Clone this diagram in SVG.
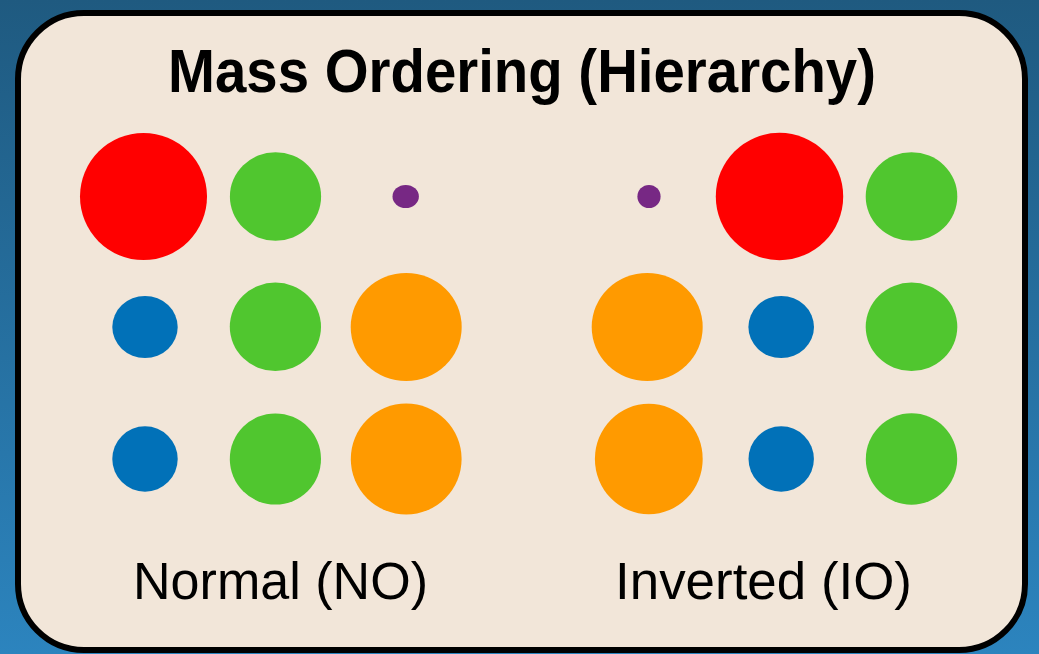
<svg xmlns="http://www.w3.org/2000/svg" width="1039" height="654" viewBox="0 0 1039 654">
  <defs>
    <linearGradient id="bg" x1="0" y1="0" x2="0" y2="1">
      <stop offset="0" stop-color="#1f5a80"/>
      <stop offset="1" stop-color="#2c84be"/>
    </linearGradient>
    <style>
      .red{fill:#ff0000}
      .green{fill:#50c62f}
      .purple{fill:#772884}
      .blue{fill:#0171b8}
      .orange{fill:#ff9a00}
      .lbl{font-family:"Liberation Sans",Arial,sans-serif;font-size:51px;fill:#000}
      .title{font-family:"Liberation Sans",Arial,sans-serif;font-size:61px;font-weight:bold;fill:#000}
    </style>
  </defs>
  <rect x="0" y="0" width="1039" height="654" fill="url(#bg)"/>
  <rect x="18" y="13" width="1007" height="637" rx="66" ry="66" fill="#f2e6d9" stroke="#000" stroke-width="6"/>
  <g id="title">
    <text class="title" x="522" y="92" text-anchor="middle" textLength="708" lengthAdjust="spacingAndGlyphs">Mass Ordering (Hierarchy)</text>
  </g>
  <g id="normal">
    <circle class="red" cx="143.5" cy="196.5" r="63.5"/>
    <ellipse class="green" cx="275.5" cy="196.5" rx="45.6" ry="44.3"/>
    <ellipse class="purple" cx="405.7" cy="196.5" rx="13.2" ry="11.5"/>
    <ellipse class="blue" cx="145" cy="327" rx="32.7" ry="31"/>
    <ellipse class="green" cx="275.4" cy="326.8" rx="45.6" ry="44.2"/>
    <ellipse class="orange" cx="406.2" cy="327" rx="55.5" ry="54"/>
    <circle class="blue" cx="145" cy="459" r="32.7"/>
    <circle class="green" cx="275.4" cy="459" r="45.6"/>
    <circle class="orange" cx="406.2" cy="459" r="55.4"/>
    <text class="lbl" x="133" y="599" textLength="295" lengthAdjust="spacingAndGlyphs">Normal (NO)</text>
  </g>
  <g id="inverted">
    <circle class="purple" cx="649" cy="196.5" r="11.6"/>
    <circle class="red" cx="779.5" cy="196.5" r="63.7"/>
    <ellipse class="green" cx="911.5" cy="196.5" rx="45.8" ry="44.3"/>
    <ellipse class="orange" cx="647.2" cy="327" rx="55.5" ry="54"/>
    <ellipse class="blue" cx="781.2" cy="327" rx="32.8" ry="31"/>
    <ellipse class="green" cx="911.5" cy="326.8" rx="45.8" ry="44.2"/>
    <ellipse class="orange" cx="648.8" cy="459" rx="53.9" ry="55.3"/>
    <circle class="blue" cx="781.2" cy="459" r="32.7"/>
    <circle class="green" cx="911.5" cy="459" r="45.7"/>
    <text class="lbl" x="615" y="599" textLength="297" lengthAdjust="spacingAndGlyphs">Inverted (IO)</text>
  </g>
</svg>
